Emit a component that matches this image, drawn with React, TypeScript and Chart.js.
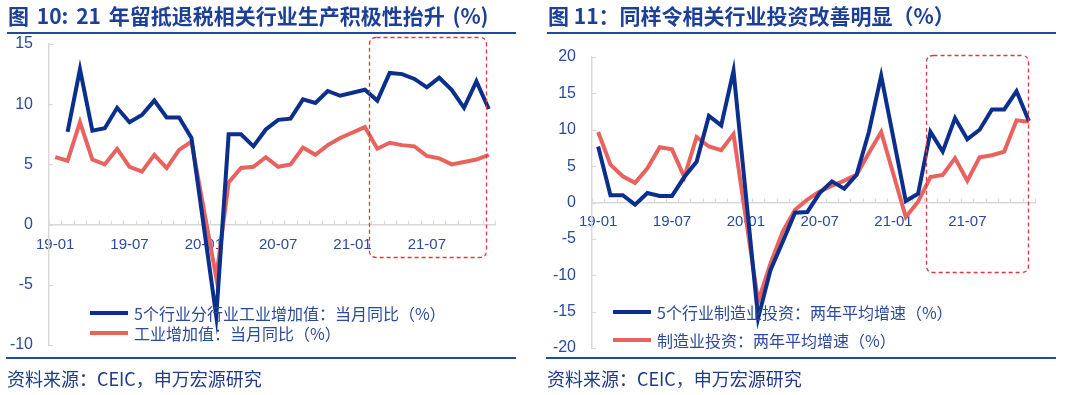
import React, { useEffect, useRef } from 'react';
import { Chart, registerables } from 'chart.js';

Chart.register(...registerables);

// ---------- data ----------
const months: string[] = [
  '19-01', '19-02', '19-03', '19-04', '19-05', '19-06', '19-07', '19-08', '19-09', '19-10', '19-11', '19-12',
  '20-01', '20-02', '20-03', '20-04', '20-05', '20-06', '20-07', '20-08', '20-09', '20-10', '20-11', '20-12',
  '21-01', '21-02', '21-03', '21-04', '21-05', '21-06', '21-07', '21-08', '21-09', '21-10', '21-11', '21-12',
];
const shownTickLabels: string[] = ['19-01', '19-07', '20-01', '20-07', '21-01', '21-07'];

// Chart 10
const fiveIndustryOutput: (number | null)[] = [
  null, 7.7, 12.9, 7.8, 8.0, 9.7, 8.5, 9.1, 10.3, 8.9, 8.9, 7.2,
  null, -7.6, 7.5, 7.5, 6.5, 7.9, 8.7, 8.8, 10.4, 10.1, 11.1, 10.7,
  null, 11.2, 10.3, 12.6, 12.5, 12.1, 11.4, 12.2, 11.2, 9.7, 11.9, 9.6,
];
const industrialOutput: (number | null)[] = [
  5.6, 5.3, 8.5, 5.4, 5.0, 6.3, 4.8, 4.4, 5.8, 4.7, 6.2, 6.9,
  null, -4.4, 3.5, 4.7, 4.8, 5.6, 4.8, 5.0, 6.4, 5.8, 6.6, 7.2,
  null, 8.1, 6.3, 6.8, 6.6, 6.5, 5.7, 5.5, 5.0, 5.2, 5.4, 5.8,
];
const leftSeriesNames: string[] = ['5个行业分行业工业增加值：当月同比（%）', '工业增加值：当月同比（%）'];

// Chart 11
const fiveIndustryInvest: (number | null)[] = [
  7.7, 1.0, 1.0, -0.3, 1.3, 0.9, 0.9, 3.5, 5.6, 11.9, 10.6, 18.1,
  null, -15.9, -9.3, -5.4, -1.4, -1.3, 1.3, 2.9, 1.9, 3.8, 9.7, 17.4,
  null, 0.2, 1.2, 9.7, 7.0, 11.6, 8.7, 10.0, 12.8, 12.8, 15.3, 11.2,
];
const mfgInvest: (number | null)[] = [
  9.7, 5.2, 3.6, 2.7, 4.7, 7.6, 7.3, 3.5, 9.0, 7.7, 7.2, 9.4,
  null, -13.6, -8.4, -4.0, -1.0, 0.4, 1.5, 2.3, 3.0, 3.8, 6.8, 9.7,
  null, -2.0, 0.1, 3.5, 3.8, 6.1, 3.0, 6.2, 6.5, 7.0, 11.3, 11.1,
];
const rightSeriesNames: string[] = ['5个行业制造业投资：两年平均增速（%）', '制造业投资：两年平均增速（%）'];

// ---------- style ----------
const BLUE = '#0a2f8c';
const RED = '#e8625e';
const AXIS_TEXT = '#2b4a9c';
const TITLE_COLOR = '#1d3f95';
const RULE_COLOR = '#1f4b9e';
const AXIS_GRAY = '#d9d9d9';
const CJK = '"Noto Sans CJK SC", "Liberation Sans", sans-serif';
const LATIN = '"Liberation Sans", Arial, sans-serif';

const decorPlugin = {
  id: 'decor',
  beforeDatasetsDraw(chart: any) {
    const { ctx, scales } = chart;
    const xs = scales.x;
    const ys = scales.y;
    const y0 = ys.getPixelForValue(0);
    ctx.save();
    ctx.strokeStyle = AXIS_GRAY;
    ctx.lineWidth = 1.2;
    const n = xs.getLabels().length;
    for (let i = 0; i <= n; i++) {
      const px = Math.round(xs.getPixelForValue(i - 0.5)) + 0.5;
      ctx.beginPath();
      ctx.moveTo(px, y0 - 4);
      ctx.lineTo(px, y0);
      ctx.stroke();
    }
    const left = ys.left + ys.width;
    for (const t of ys.ticks) {
      const py = Math.round(ys.getPixelForValue(t.value)) + 0.5;
      ctx.beginPath();
      ctx.moveTo(left, py);
      ctx.lineTo(left + 4, py);
      ctx.stroke();
    }
    ctx.restore();
  },
  afterDraw(chart: any, _args: any, opts: any) {
    const b = opts && opts.box;
    if (!b) return;
    const ctx = chart.ctx;
    ctx.save();
    ctx.strokeStyle = '#e0383e';
    ctx.lineWidth = 1.3;
    ctx.setLineDash([4, 3]);
    ctx.beginPath();
    const r = 7;
    const { x1, y1, x2, y2 } = b;
    ctx.moveTo(x1 + r, y1);
    ctx.lineTo(x2 - r, y1);
    ctx.quadraticCurveTo(x2, y1, x2, y1 + r);
    ctx.lineTo(x2, y2 - r);
    ctx.quadraticCurveTo(x2, y2, x2 - r, y2);
    ctx.lineTo(x1 + r, y2);
    ctx.quadraticCurveTo(x1, y2, x1, y2 - r);
    ctx.lineTo(x1, y1 + r);
    ctx.quadraticCurveTo(x1, y1, x1 + r, y1);
    ctx.stroke();
    ctx.restore();
  },
};

type PanelProps = {
  offsetX: number;
  title: string;
  titleWordSpacing: number;
  blue: (number | null)[];
  red: (number | null)[];
  names: string[];
  yMin: number;
  yMax: number;
  yAxisWidth: number;
  padTop: number;
  padBottom: number;
  xLabelPad: number;
  box: { x1: number; y1: number; x2: number; y2: number };
  legendX: number;
  legendY: number[];
};

function Panel(p: PanelProps) {
  const ref = useRef<HTMLCanvasElement | null>(null);
  useEffect(() => {
    if (!ref.current) return;
    const chart = new Chart(ref.current, {
      type: 'line',
      data: {
        labels: months,
        datasets: [
          { label: p.names[0], data: p.blue, borderColor: BLUE, backgroundColor: BLUE, borderWidth: 4, pointRadius: 0, spanGaps: true, tension: 0 },
          { label: p.names[1], data: p.red, borderColor: RED, backgroundColor: RED, borderWidth: 4, pointRadius: 0, spanGaps: true, tension: 0 },
        ],
      },
      options: {
        responsive: false,
        animation: false,
        maintainAspectRatio: false,
        layout: { padding: { left: 0, right: 45, top: p.padTop, bottom: p.padBottom } },
        plugins: {
          legend: { display: false },
          tooltip: { enabled: false },
          decor: { box: p.box },
        } as any,
        scales: {
          x: {
            type: 'category',
            position: { y: 0 } as any,
            offset: true,
            grid: { display: false, drawTicks: false },
            border: { display: true, color: AXIS_GRAY, width: 1.5 },
            ticks: {
              autoSkip: false,
              maxRotation: 0,
              minRotation: 0,
              padding: p.xLabelPad,
              color: AXIS_TEXT,
              font: { family: LATIN, size: 15 },
              callback: (_v: any, i: number) => (shownTickLabels.includes(months[i]) ? months[i] : ''),
            },
          },
          y: {
            min: p.yMin,
            max: p.yMax,
            grid: { display: false, drawTicks: false },
            border: { display: true, color: AXIS_GRAY, width: 1.5 },
            ticks: { stepSize: 5, padding: 16, color: AXIS_TEXT, font: { family: LATIN, size: 16 } },
            afterFit: (s: any) => {
              s.width = p.yAxisWidth;
            },
          },
        },
      },
      plugins: [decorPlugin],
    });
    return () => chart.destroy();
  }, []);

  const o = p.offsetX;
  return (
    <>
      <canvas ref={ref} width={540} height={395} style={{ position: 'absolute', left: o, top: 0, width: 540, height: 395 }} />
      <div style={{ position: 'absolute', left: o + 8, top: 0, height: 30, lineHeight: '30px', fontFamily: CJK, fontWeight: 700, fontSize: 21, wordSpacing: p.titleWordSpacing, color: TITLE_COLOR, whiteSpace: 'nowrap' }}>
        {p.title}
      </div>
      <div style={{ position: 'absolute', left: o + 7, top: 32, width: 509, height: 2, background: RULE_COLOR }} />
      {p.names.map((n, i) => (
        <div key={n} style={{ position: 'absolute', left: o + p.legendX, top: p.legendY[i] - 12, height: 24, display: 'flex', alignItems: 'center', whiteSpace: 'nowrap' }}>
          <span style={{ display: 'inline-block', width: 38, height: 4, background: i === 0 ? BLUE : RED, marginRight: 6 }} />
          <span style={{ fontFamily: CJK, fontSize: 16, color: AXIS_TEXT, lineHeight: '24px' }}>{n}</span>
        </div>
      ))}
      <div style={{ position: 'absolute', left: o + 6, top: 357, width: 510, height: 2, background: RULE_COLOR }} />
      <div style={{ position: 'absolute', left: o + 7, top: 366, height: 24, lineHeight: '24px', fontFamily: CJK, fontSize: 18, color: '#1f3a8a', whiteSpace: 'nowrap' }}>
        资料来源：CEIC，申万宏源研究
      </div>
    </>
  );
}

export default function App() {
  return (
    <div style={{ position: 'absolute', left: 0, top: 0, width: 1080, height: 395, background: '#fff', overflow: 'hidden' }}>
      <Panel
        offsetX={0}
        title="图 10: 21 年留抵退税相关行业生产积极性抬升 (%)"
        titleWordSpacing={3}
        blue={fiveIndustryOutput}
        red={industrialOutput}
        names={leftSeriesNames}
        yMin={-10}
        yMax={15}
        yAxisWidth={49}
        padTop={44}
        padBottom={50}
        xLabelPad={11}
        box={{ x1: 369.5, y1: 37.5, x2: 486.5, y2: 257.5 }}
        legendX={90}
        legendY={[313, 333]}
      />
      <Panel
        offsetX={540}
        title="图 11：同样令相关行业投资改善明显（%）"
        titleWordSpacing={0}
        blue={fiveIndustryInvest}
        red={mfgInvest}
        names={rightSeriesNames}
        yMin={-20}
        yMax={20}
        yAxisWidth={52}
        padTop={57}
        padBottom={47}
        xLabelPad={10}
        box={{ x1: 386.5, y1: 55.5, x2: 488.5, y2: 272.5 }}
        legendX={73}
        legendY={[312, 340]}
      />
    </div>
  );
}
